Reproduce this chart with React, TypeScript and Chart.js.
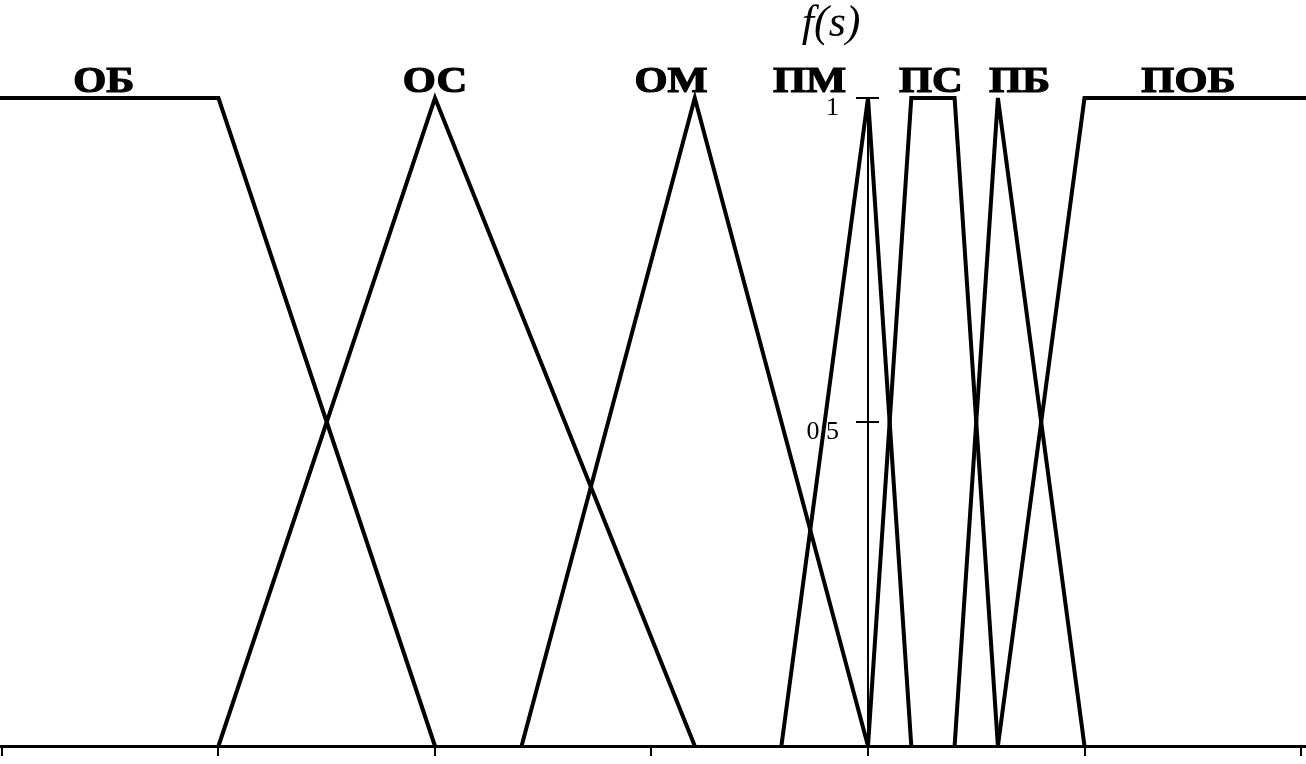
import React, { useEffect, useRef } from "react";
import { Chart, registerables } from "chart.js";

Chart.register(...registerables);

// Axis ticks
const xTicks = [-4, -3, -2, -1, 0, 1, 2];
const yTicks = [0.5, 1];
const yTickLabels = ["0.5", "1"];

// Membership functions (break points)
const obX = [-4.03, -3, -2];
const obY = [1, 1, 0];
const osX = [-3, -2, -0.8];
const osY = [0, 1, 0];
const omX = [-1.6, -0.8, 0];
const omY = [0, 1, 0];
const pmX = [-0.4, 0, 0.2];
const pmY = [0, 1, 0];
const psX = [0, 0.2, 0.4, 0.6];
const psY = [0, 1, 1, 0];
const pbX = [0.4, 0.6, 1.0];
const pbY = [0, 1, 0];
const pobX = [0.6, 1.0, 2.03];
const pobY = [0, 1, 1];

// Term labels
const termNames = ["ОБ", "ОС", "ОМ", "ПМ", "ПС", "ПБ", "ПОБ"];
const termLabelX = [-3.53, -2.0, -0.91, -0.27, 0.29, 0.7, 1.48];
const termLabelY = 1.01;

const titleText = "f(s)";
const titleX = -0.17;
const titleY = 1.095;

const series = [
  [obX, obY],
  [osX, osY],
  [omX, omY],
  [pmX, pmY],
  [psX, psY],
  [pbX, pbY],
  [pobX, pobY],
];

const labelPlugin = {
  id: "termLabels",
  afterDatasetsDraw(chart: any) {
    const { ctx, scales } = chart;
    const x = scales.x;
    const y = scales.y;
    const axisX = x.getPixelForValue(0);
    ctx.save();
    ctx.fillStyle = "#000";
    ctx.strokeStyle = "#000";
    ctx.textAlign = "center";
    ctx.textBaseline = "alphabetic";
    ctx.font = "bold 36px 'Liberation Serif', 'DejaVu Serif', serif";
    ctx.lineWidth = 1.2;
    termNames.forEach((name, i) => {
      const px = x.getPixelForValue(termLabelX[i]);
      const py = y.getPixelForValue(termLabelY);
      ctx.save();
      ctx.translate(px, py);
      ctx.scale(1.18, 1);
      ctx.fillText(name, 0, 0);
      ctx.strokeText(name, 0, 0);
      ctx.restore();
    });
    ctx.font = "italic 44px 'Liberation Serif', 'DejaVu Serif', serif";
    ctx.fillText(titleText, x.getPixelForValue(titleX), y.getPixelForValue(titleY));

    // y-axis tick marks and labels
    ctx.lineWidth = 2;
    ctx.font = "26px 'Liberation Serif', 'DejaVu Serif', serif";
    ctx.textAlign = "right";
    ctx.textBaseline = "middle";
    yTicks.forEach((v, i) => {
      const py = y.getPixelForValue(v);
      ctx.beginPath();
      ctx.moveTo(axisX - 12, py);
      ctx.lineTo(axisX + 11, py);
      ctx.stroke();
      ctx.fillText(yTickLabels[i], axisX - 29, py + 10);
    });
    ctx.restore();
  },
};

export default function App() {
  const ref = useRef<HTMLCanvasElement | null>(null);

  useEffect(() => {
    if (!ref.current) return;
    const chart = new Chart(ref.current, {
      type: "line",
      data: {
        datasets: series.map(([xs, ys]) => ({
          data: xs.map((v, i) => ({ x: v, y: ys[i] })),
          borderColor: "#000",
          borderWidth: 4,
          pointRadius: 0,
          fill: false,
          tension: 0,
          clip: false as any,
        })),
      },
      options: {
        animation: false,
        responsive: false,
        layout: { padding: { top: 98, bottom: 8, left: 0, right: 0 } },
        plugins: {
          legend: { display: false },
          tooltip: { enabled: false },
        },
        scales: {
          x: {
            type: "linear",
            position: "bottom",
            min: -4.009,
            max: 2.023,
            afterBuildTicks: (s: any) => {
              s.ticks = xTicks.map((v) => ({ value: v }));
            },
            ticks: { display: false },
            grid: {
              drawOnChartArea: false,
              drawTicks: true,
              tickLength: 10,
              color: "#000",
              lineWidth: 2,
            },
            border: { display: true, color: "#000", width: 3 },
          },
          y: {
            type: "linear",
            position: { x: 0 } as any,
            min: 0,
            max: 1,
            afterBuildTicks: (s: any) => {
              s.ticks = yTicks.map((v) => ({ value: v }));
            },
            ticks: { display: false },
            grid: {
              drawOnChartArea: false,
              drawTicks: false,
            },
            border: { display: true, color: "#000", width: 2 },
          },
        },
      },
      plugins: [labelPlugin],
    } as any);
    return () => chart.destroy();
  }, []);

  return (
    <div style={{ position: "absolute", left: 0, top: 0, width: 1306, height: 764, background: "#fff" }}>
      <canvas ref={ref} width={1306} height={764} />
    </div>
  );
}
